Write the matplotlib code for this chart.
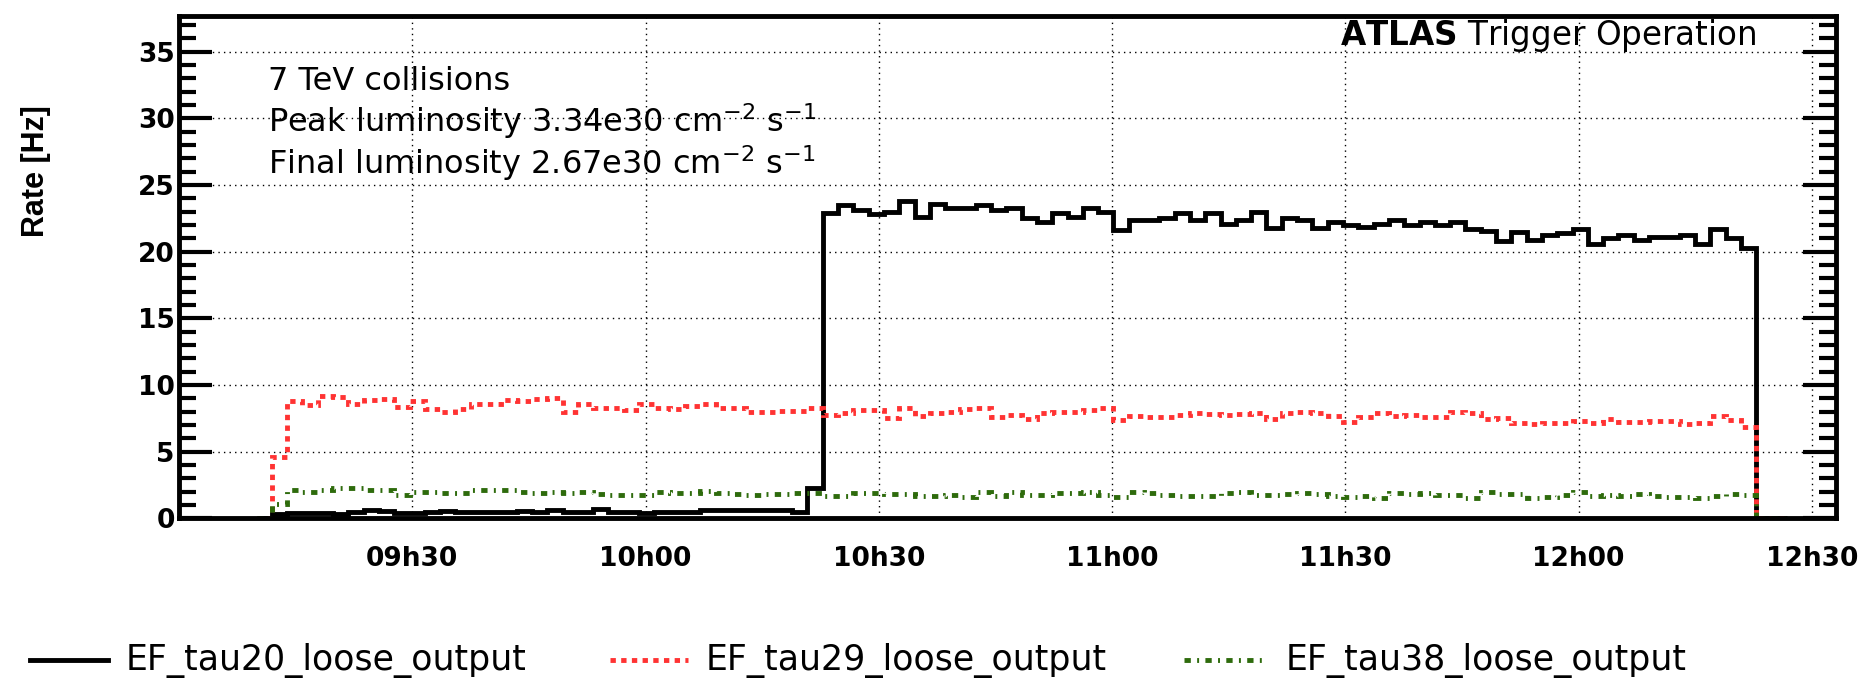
import numpy as np
import matplotlib
matplotlib.use("Agg")
import matplotlib.pyplot as plt
from matplotlib.lines import Line2D
from matplotlib.ticker import MultipleLocator

# ---------------- data ----------------
# time in minutes after 09h00; histogram with ~2 minute bins
bin_start = 9.97
bin_width = 1.968

series_names = ["EF_tau20_loose_output", "EF_tau29_loose_output", "EF_tau38_loose_output"]

tau20 = [0.0,
         0.3, 0.4, 0.4, 0.4, 0.3, 0.5, 0.65, 0.55, 0.42, 0.42,
         0.5, 0.55, 0.5, 0.45, 0.48, 0.5, 0.52, 0.45, 0.65, 0.45,
         0.45, 0.7, 0.45, 0.45,
         0.42, 0.45, 0.5, 0.45, 0.6, 0.6, 0.6, 0.6, 0.62, 0.6, 0.45,
         2.3,
         22.9, 23.5, 23.1, 22.8, 23.0, 23.8, 22.6, 23.6, 23.25, 23.3,
         23.5, 23.1, 23.25, 22.5, 22.25, 22.9, 22.6, 23.3, 23.0, 21.6,
         22.35, 22.4, 22.55, 22.9, 22.4, 22.9, 22.1, 22.4, 23.0, 21.75,
         22.5, 22.4, 21.75, 22.2, 22.0, 21.85, 22.1, 22.4, 22.0, 22.2,
         22.0, 22.2, 21.7, 21.55, 20.8, 21.5, 20.9, 21.25, 21.4, 21.7,
         20.6, 21.0, 21.25, 20.9, 21.1, 21.1, 21.25, 20.6, 21.7, 21.0,
         20.25,
         0.0, 0.0]

tau29 = [0.0,
         4.62, 8.82, 8.5, 9.2, 9.1, 8.57, 8.87, 8.97, 8.32, 8.82,
         8.17, 8.0, 8.2, 8.57, 8.57, 8.87, 8.77, 8.97,
         9.0, 7.95, 8.6, 8.25, 8.25, 8.1, 8.6, 8.3, 8.2, 8.4,
         8.55, 8.25, 8.25, 8.0, 7.95, 8.05, 8.05, 8.25,
         7.75, 7.87, 8.12, 8.12, 7.5, 8.3, 7.7, 7.87, 8.0, 8.17,
         8.25, 7.62, 7.75, 7.42, 7.87, 8.0, 7.95, 8.12, 8.3, 7.37,
         7.67, 7.57, 7.57, 7.75, 7.92, 7.82, 7.75, 7.82, 7.92, 7.42,
         7.87, 8.0, 7.87, 7.65, 7.25, 7.57, 7.87, 7.7, 7.75, 7.62,
         7.57, 7.95, 7.92, 7.42, 7.5, 7.17, 7.1, 7.17, 7.17, 7.32,
         7.12, 7.42, 7.25, 7.25, 7.27, 7.27, 7.07, 7.17, 7.67, 7.37,
         6.87,
         0.0, 0.0]

tau38 = [0.0,
         1.1, 2.1, 1.95, 2.12, 2.3, 2.25, 2.12, 2.15, 1.75, 2.0,
         2.0, 1.87, 1.87, 2.12, 2.12, 2.12, 2.0,
         1.87, 1.95, 1.87, 1.95, 1.82, 1.75, 1.72, 1.75, 1.95, 1.87,
         1.92, 2.05, 1.92, 1.82, 1.75, 1.85, 1.82, 1.92, 1.87,
         1.68, 1.68, 1.87, 1.87, 1.82, 1.85, 1.68, 1.7, 1.75, 1.62,
         1.99, 1.68, 1.95, 1.75, 1.75, 1.87, 1.87, 1.95, 1.75, 1.57,
         1.97, 1.87, 1.75, 1.68, 1.68, 1.68, 1.87, 2.0, 1.75, 1.75,
         1.85, 1.9, 1.82, 1.7, 1.6, 1.7, 1.55, 1.9, 1.85, 1.87,
         1.75, 1.75, 1.55, 1.95, 1.8, 1.8, 1.55, 1.6, 1.75, 2.0,
         1.7, 1.72, 1.65, 1.8, 1.65, 1.6, 1.62, 1.55, 1.65, 1.85,
         1.75,
         0.0, 0.0]

xtick_pos = [30, 60, 90, 120, 150, 180, 210]
xtick_labels = ["09h30", "10h00", "10h30", "11h00", "11h30", "12h00", "12h30"]
ytick_pos = [0, 5, 10, 15, 20, 25, 30, 35]

info_lines = ["7 TeV collisions",
              r"Peak luminosity 3.34e30 cm$^{-2}$ s$^{-1}$",
              r"Final luminosity 2.67e30 cm$^{-2}$ s$^{-1}$"]

# ---------------- figure ----------------
W, H = 1875, 682
fig = plt.figure(figsize=(W / 100, H / 100), dpi=100)
plt.rcParams['mathtext.fontset'] = 'dejavusans'

def fx(px):
    return px / W

def fy(py):
    return 1 - py / H

y0_px, ytop_px = 518.3, 16.0
ax = fig.add_axes([fx(179), fy(y0_px), fx(1836) - fx(179), (y0_px - ytop_px) / H])

edges = bin_start + bin_width * np.arange(len(tau20) + 1)

styles = [
    dict(color="black", lw=3.5, linestyle="-"),
    dict(color="#ff3333", lw=3.5, linestyle=(0, (1.1, 1.1))),
    dict(color="#2e6b0c", lw=3.5, linestyle=(0, (1.3, 1.3, 0.4, 1.3))),
]

for vals, st in zip([tau20, tau29, tau38], styles):
    ax.stairs(vals, edges, baseline=None, **st)

ax.set_xlim(0, 213.1)
ax.set_ylim(0, (y0_px - ytop_px) / 13.33)

ax.set_xticks(xtick_pos)
ax.set_xticklabels(xtick_labels)
ax.set_yticks(ytick_pos)
ax.set_yticklabels([str(v) for v in ytick_pos])
ax.yaxis.set_minor_locator(MultipleLocator(1))

ax.tick_params(axis="x", which="both", length=0, pad=20, labelsize=19)
ax.tick_params(axis="y", which="major", direction="in", length=24, width=3,
               left=True, right=True, labelsize=19, pad=3)
ax.tick_params(axis="y", which="minor", direction="in", length=12, width=3,
               left=True, right=True)
for lbl in ax.get_xticklabels() + ax.get_yticklabels():
    lbl.set_fontweight("bold")

for sp in ax.spines.values():
    sp.set_linewidth(3.5)

ax.grid(True, which="major", color="black", linestyle=(0, (1, 3)), lw=1.0)
ax.set_axisbelow(True)

# y title
fig.text(fx(36), fy(171), "Rate [Hz]", rotation=90, ha="center", va="center",
         fontsize=22, fontweight="bold", family=["Liberation Sans", "DejaVu Sans"])

# info text
for txt, base in zip(info_lines, [90, 132, 174]):
    fig.text(fx(268), fy(base), txt, ha="left", va="baseline", fontsize=23)

fig.text(fx(1757), fy(45), r"$\mathbf{ATLAS}$ Trigger Operation", ha="right",
         va="baseline", fontsize=23.5)

# legend (below plot)
leg_y = 660
leg_items = [(30, 108, 126), (610, 688, 706), (1184, 1262, 1286)]
for (x0, x1, xt), name, st in zip(leg_items, series_names, styles):
    fig.add_artist(Line2D([fx(x0), fx(x1)], [fy(leg_y), fy(leg_y)],
                          transform=fig.transFigure, **st))
    fig.text(fx(xt), fy(leg_y), name, ha="left", va="center", fontsize=25)

fig.savefig("out.png", dpi=100)
